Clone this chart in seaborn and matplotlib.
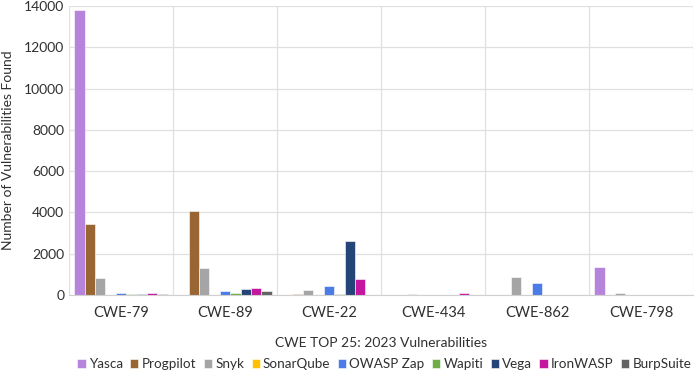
import pandas as pd
import matplotlib.pyplot as plt
import seaborn as sns

categories = ["CWE-79", "CWE-89", "CWE-22", "CWE-434", "CWE-862", "CWE-798"]
tools = ["Yasca", "Progpilot", "Snyk", "SonarQube", "OWASP Zap",
         "Wapiti", "Vega", "IronWASP", "BurpSuite"]

yasca = [13800, 0, 0, 0, 0, 1340]
progpilot = [3430, 4050, 30, 0, 0, 0]
snyk = [820, 1290, 240, 40, 860, 100]
sonarqube = [0, 0, 0, 0, 0, 0]
owasp_zap = [110, 210, 420, 0, 580, 0]
wapiti = [60, 100, 30, 0, 0, 0]
vega = [60, 305, 2640, 0, 0, 0]
ironwasp = [110, 350, 775, 100, 0, 0]
burpsuite = [55, 195, 0, 0, 0, 0]

colors = ["#B784DB", "#996633", "#A5A5A5", "#FFC000", "#4A7BE6",
          "#70AD47", "#254478", "#C5169F", "#636363"]

series = [yasca, progpilot, snyk, sonarqube, owasp_zap, wapiti, vega, ironwasp, burpsuite]
rows = []
for tool, vals in zip(tools, series):
    for cat, v in zip(categories, vals):
        rows.append({"cwe": cat, "tool": tool, "count": v})
df = pd.DataFrame(rows)

sns.set_style("white")
plt.rcParams["font.family"] = ["Lato", "DejaVu Sans"]

fig = plt.figure(figsize=(6.98, 3.74), dpi=100)
ax = fig.add_axes([69 / 698, 1 - 295 / 374, 624 / 698, 289 / 374])

sns.barplot(data=df, x="cwe", y="count", hue="tool", order=categories,
            hue_order=tools, palette=colors, width=0.9, ax=ax,
            edgecolor="white", linewidth=0.4, saturation=1, errorbar=None)

ax.set_ylim(0, 14000)
ax.set_xlim(-0.5, len(categories) - 0.5)
ax.set_yticks(range(0, 14001, 2000))
ax.yaxis.grid(True, color="#E0E0E0", linewidth=0.9)
for x in range(len(categories) + 1):
    ax.axvline(x - 0.5, color="#E0E0E0", linewidth=0.9, zorder=0)
ax.set_axisbelow(True)
for s in ["top", "right", "left"]:
    ax.spines[s].set_visible(False)
ax.spines["bottom"].set_color("#D0D0D0")
ax.tick_params(axis="both", length=0, colors="#303030", labelsize=10)
ax.tick_params(axis="x", pad=8, labelsize=10.5)
ax.set_xlabel("CWE TOP 25: 2023 Vulnerabilities", fontsize=10, color="#303030", labelpad=12)
ax.set_ylabel("Number of Vulnerabilities Found", fontsize=10, color="#303030", labelpad=7)

handles, labels = ax.get_legend_handles_labels()
ax.legend(handles, labels, loc="center right", bbox_to_anchor=(698 / 698, 10 / 374),
          bbox_transform=fig.transFigure, ncol=9, frameon=False, fontsize=9.7,
          handlelength=0.6, handleheight=0.6, handletextpad=0.25, columnspacing=0.55,
          borderpad=0, labelcolor="#303030")

fig.savefig("out.png", dpi=100)
